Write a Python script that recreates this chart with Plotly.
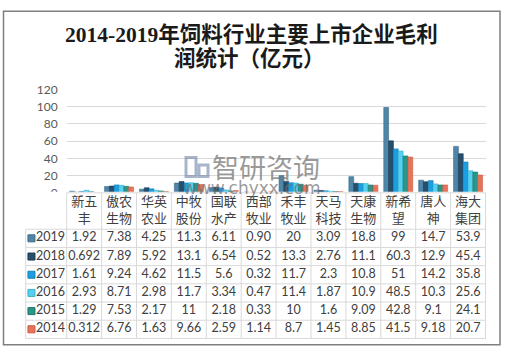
import plotly.graph_objects as go

companies = ["新五丰", "傲农生物", "华英农业", "中牧股份", "国联水产", "西部牧业",
             "禾丰牧业", "天马科技", "天康生物", "新希望", "唐人神", "海大集团"]
header_labels = ["新五<br>丰", "傲农<br>生物", "华英<br>农业", "中牧<br>股份", "国联<br>水产", "西部<br>牧业",
                 "禾丰<br>牧业", "天马<br>科技", "天康<br>生物", "新希<br>望", "唐人<br>神", "海大<br>集团"]
years = ["2019", "2018", "2017", "2016", "2015", "2014"]
v2019 = [1.92, 7.38, 4.25, 11.3, 6.11, 0.90, 20, 3.09, 18.8, 99, 14.7, 53.9]
v2018 = [0.692, 7.89, 5.92, 13.1, 6.54, 0.52, 13.3, 2.76, 11.1, 60.3, 12.9, 45.4]
v2017 = [1.61, 9.24, 4.62, 11.5, 5.6, 0.32, 11.7, 2.3, 10.8, 51, 14.2, 35.8]
v2016 = [2.93, 8.71, 2.98, 11.7, 3.34, 0.47, 11.4, 1.87, 10.9, 48.5, 10.3, 25.6]
v2015 = [1.29, 7.53, 2.17, 11, 2.18, 0.33, 10, 1.6, 9.09, 42.8, 9.1, 24.1]
v2014 = [0.312, 6.76, 1.63, 9.66, 2.59, 1.14, 8.7, 1.45, 8.85, 41.5, 9.18, 20.7]
labels2019 = ["1.92", "7.38", "4.25", "11.3", "6.11", "0.90", "20", "3.09", "18.8", "99", "14.7", "53.9"]
series = [v2019, v2018, v2017, v2016, v2015, v2014]
colors = ["#4f86a8", "#264f6e", "#1a9fe0", "#55d0ef", "#2a9688", "#e8735a"]
edge = ["#3a6a88", "#1a3a55", "#1580b8", "#3aaed0", "#1f7468", "#c85a44"]

W, H = 506, 355
def py(p):
    return 1 - p / H

fig = go.Figure()
for yr, vals, c, e in zip(years, series, colors, edge):
    fig.add_trace(go.Bar(x=companies, y=vals, name=yr,
                         marker=dict(color=c, line=dict(color=e, width=0.6)),
                         showlegend=False, hoverinfo="skip"))

# ---------- data table below the plot (own axes x2/y2) ----------
x0, x1 = 66.7, 485.5            # plot area (px)
tx0 = 25.7                      # table left edge (px)
cw = (x1 - x0) / len(companies)
lu = (x0 - tx0) / cw            # legend-column width in column units
nC, nR = len(companies), len(years)
pad = 0.06
top_px, row_px = 193.0, 19.0
bot_px = top_px + (nR + 2) * row_px
grid = "#d9d9d9"

gx, gy = [], []
for i in range(nC + 1):
    gx += [i, i, None]; gy += [-2, nR, None]
gx += [-lu, -lu, None]; gy += [0, nR, None]
for r in range(nR + 1):
    gx += [-lu, nC, None]; gy += [r, r, None]
gx += [0, nC, None]; gy += [-2, -2, None]
fig.add_trace(go.Scatter(x=gx, y=gy, mode="lines", xaxis="x2", yaxis="y2",
                         line=dict(color=grid, width=1), showlegend=False, hoverinfo="skip"))

# header labels
fig.add_trace(go.Scatter(x=[i + 0.5 for i in range(nC)], y=[-1] * nC, mode="text", text=header_labels,
                         xaxis="x2", yaxis="y2", showlegend=False, hoverinfo="skip",
                         textfont=dict(family="Noto Sans CJK SC", size=13, color="#404040")))
# cell values
cx, cy, ct = [], [], []
for r, s in enumerate(series):
    for i, v in enumerate(s):
        cx.append(i + 0.5); cy.append(r + 0.5)
        ct.append(labels2019[i] if r == 0 else "%g" % v)
fig.add_trace(go.Scatter(x=cx, y=cy, mode="text", text=ct, xaxis="x2", yaxis="y2",
                         showlegend=False, hoverinfo="skip",
                         textfont=dict(family="Lato, Noto Sans CJK SC", size=12.5, color="#404040")))
# legend column: key squares + year labels
fig.add_trace(go.Scatter(x=[-lu + 0.165] * nR, y=[r + 0.5 for r in range(nR)], mode="markers",
                         xaxis="x2", yaxis="y2", showlegend=False, hoverinfo="skip",
                         marker=dict(symbol="square", size=7, color=colors, line=dict(color=edge, width=1))))
fig.add_trace(go.Scatter(x=[-lu + 0.71] * nR, y=[r + 0.5 for r in range(nR)], mode="text", text=years,
                         xaxis="x2", yaxis="y2", showlegend=False, hoverinfo="skip",
                         textfont=dict(family="Lato", size=12.5, color="#404040")))

fig.update_layout(
    width=W, height=H, margin=dict(l=0, r=0, t=0, b=0),
    paper_bgcolor="white", plot_bgcolor="white",
    barmode="group", bargap=0.17, bargroupgap=0,
    xaxis=dict(domain=[x0 / W, x1 / W], showticklabels=False, showgrid=False, ticks="",
               showline=False, fixedrange=True),
    yaxis=dict(domain=[py(193), py(85)], range=[0, 120], tickvals=[0, 20, 40, 60, 80, 100, 120],
               showgrid=True, gridcolor=grid, gridwidth=1, zeroline=False, showline=False,
               tickfont=dict(family="Lato", size=12, color="#595959"), ticklabelstandoff=8),
    xaxis2=dict(domain=[(tx0 - pad * cw) / W, (x1 + pad * cw) / W], range=[-lu - pad, nC + pad],
                visible=False, anchor="y2"),
    yaxis2=dict(domain=[py(bot_px + pad * row_px), py(top_px - pad * row_px)],
                range=[nR + pad, -2 - pad], visible=False, anchor="x2"),
    font=dict(family="Noto Sans CJK SC"),
)

fig.add_annotation(x=0.498, y=py(28), xref="paper", yref="paper", showarrow=False,
                   xanchor="center", yanchor="middle",
                   text="<b>2014-2019年饲料行业主要上市企业毛利</b>",
                   font=dict(family="Liberation Serif, Noto Sans CJK SC", size=21.5, color="#1a1a1a"))
fig.add_annotation(x=0.493, y=py(53), xref="paper", yref="paper", showarrow=False,
                   xanchor="center", yanchor="middle",
                   text="<b>润统计（亿元）</b>",
                   font=dict(family="Liberation Serif, Noto Sans CJK SC", size=21.5, color="#1a1a1a"))
# watermark
fig.add_annotation(x=266 / W, y=py(166), xref="paper", yref="paper", showarrow=False,
                   xanchor="center", yanchor="middle",
                   text="智研咨询", font=dict(family="Noto Sans CJK SC", size=27, color="rgba(120,120,120,0.75)"))
fig.add_annotation(x=252 / W, y=py(188), xref="paper", yref="paper", showarrow=False,
                   xanchor="center", yanchor="middle",
                   text="www.chyxx.com", font=dict(family="DejaVu Sans", size=17, color="rgba(110,110,110,0.7)"))
fig.add_shape(type="rect", xref="paper", yref="paper", x0=186 / W, x1=196 / W, y0=py(176), y1=py(156),
              line=dict(color="rgba(110,130,170,0.6)", width=3))
fig.add_shape(type="rect", xref="paper", yref="paper", x0=199 / W, x1=208 / W, y0=py(176), y1=py(164),
              line=dict(color="rgba(110,130,170,0.6)", width=3))

fig.add_shape(type="rect", xref="paper", yref="paper", x0=3.5 / W, x1=500 / W, y0=py(351.5), y1=py(3.5),
              line=dict(color="#7f7f7f", width=1.5))

fig.write_html("out.html", config={"displayModeBar": False},
               post_script="document.body.style.margin='0';document.body.style.overflow='hidden';")
